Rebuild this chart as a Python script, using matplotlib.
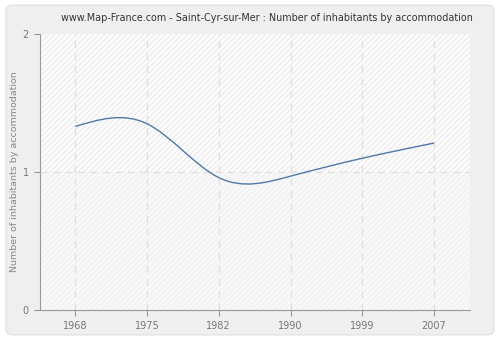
import numpy as np
import matplotlib.pyplot as plt
from matplotlib.path import Path
from matplotlib.patches import PathPatch, FancyBboxPatch

years = ["1968", "1975", "1982", "1990", "1999", "2007"]
ratio = [1.33, 1.35, 0.96, 0.97, 1.10, 1.21]
yticks = [0, 1, 2]

fig = plt.figure(figsize=(5, 3.4), dpi=100)
fig.patch.set_facecolor("white")
fig.patches.append(FancyBboxPatch((0.012, 0.015), 0.976, 0.97,
                                  boxstyle="round,pad=0,rounding_size=0.015",
                                  transform=fig.transFigure, facecolor="#efefef",
                                  edgecolor="#e4e4e4", linewidth=1, zorder=-10))

ax = fig.add_axes([0.08, 0.088, 0.86, 0.812])
ax.set_facecolor("white")
plt.rcParams["hatch.linewidth"] = 0.7

x = np.arange(len(years))
y = np.array(ratio)

# natural cubic spline drawn as bezier segments through the data points
n = len(x)
A = np.zeros((n, n))
b = np.zeros(n)
A[0, 0] = A[-1, -1] = 1
for i in range(1, n - 1):
    A[i, i - 1:i + 2] = [1, 4, 1]
    b[i] = 6 * (y[i + 1] - 2 * y[i] + y[i - 1])
M = np.linalg.solve(A, b)
slope = np.empty(n)
slope[:-1] = (y[1:] - y[:-1]) - (2 * M[:-1] + M[1:]) / 6
slope[-1] = (y[-1] - y[-2]) + (M[-2] + 2 * M[-1]) / 6

verts = [(x[0], y[0])]
codes = [Path.MOVETO]
for i in range(n - 1):
    verts += [(x[i] + 1 / 3, y[i] + slope[i] / 3),
              (x[i + 1] - 1 / 3, y[i + 1] - slope[i + 1] / 3),
              (x[i + 1], y[i + 1])]
    codes += [Path.CURVE4] * 3
ax.add_patch(PathPatch(Path(verts, codes), facecolor="none",
                       edgecolor="#4f79a8", linewidth=1, zorder=3))

ax.axhspan(1, 2, facecolor="#fcfcfc", hatch="//////", edgecolor="#e8e8e8",
           linewidth=0, zorder=0)
ax.axhspan(0, 1, facecolor="#f8f8f8", hatch="//////", edgecolor="#efefef",
           linewidth=0, zorder=0)

ax.set_xlim(-0.49, 5.5)
ax.set_ylim(0, 2)
ax.set_xticks(x)
ax.set_xticklabels(years)
ax.set_yticks(yticks)
for xi in x:
    ax.axvline(xi, color="#e0e0e0", linestyle=(0, (5, 4)), linewidth=1, zorder=1)
ax.axhline(1, color="#e0e0e0", linestyle=(0, (5, 4)), linewidth=1, zorder=1)

for s in ["top", "right"]:
    ax.spines[s].set_visible(False)
for s in ["left", "bottom"]:
    ax.spines[s].set_color("#999999")
ax.tick_params(colors="#999999", labelcolor="#777777", labelsize=7, length=4,
               direction="out", pad=4)

ax.set_ylabel("Number of inhabitants by accommodation", fontsize=6.8,
              color="#888888")
ax.yaxis.set_label_coords(-0.049, 0.5)
fig.text(0.534, 0.947,
         "www.Map-France.com - Saint-Cyr-sur-Mer : Number of inhabitants by accommodation",
         fontsize=6.9, color="#333333", ha="center", va="center")

fig.savefig("out.png", dpi=100)
